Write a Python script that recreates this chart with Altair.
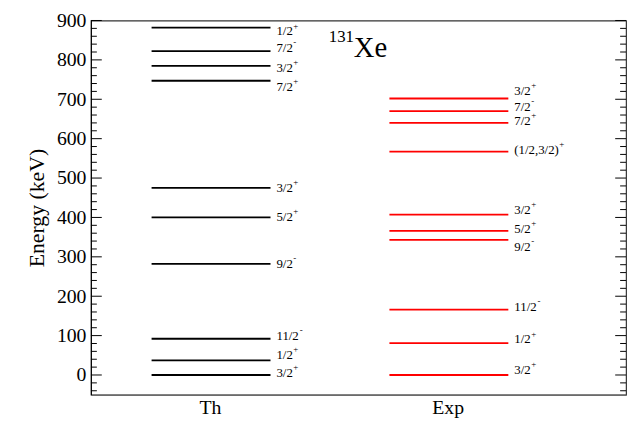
import altair as alt
import pandas as pd

# Level energies (keV) and spin-parity labels
th_energy = [0, 37, 92, 282, 400, 475, 747, 785, 822, 882]
th_label_pos = [5, 50, 100, 282, 400, 475, 730, 780, 830, 872]
th_spin = ["3/2", "1/2", "11/2", "9/2", "5/2", "3/2", "7/2", "3/2", "7/2", "1/2"]
th_parity = ["+", "+", "-", "-", "+", "+", "+", "+", "-", "+"]

exp_energy = [0, 81, 166, 343, 366, 407, 567, 640, 670, 702]
exp_label_pos = [12, 90, 172, 325, 370, 420, 572, 645, 680, 720]
exp_spin = ["3/2", "1/2", "11/2", "9/2", "5/2", "3/2", "(1/2,3/2)", "7/2", "7/2", "3/2"]
exp_parity = ["+", "+", "-", "-", "+", "+", "+", "+", "-", "+"]

columns = ["Th", "Exp"]
column_center = [2, 6]

FONT = "'Liberation Serif', 'Times New Roman', Times, serif"
W, H = 542, 379
XMAX = 9
PX_PER_UNIT = W / XMAX
LBL = 13

char_w = {"(": 0.333, ")": 0.333, "/": 0.278, ",": 0.25}


def text_width(s, size):
    return sum(char_w.get(c, 0.5) for c in s) * size


rows = []
for col, energies, lpos, spins, pars, x0, color in [
    ("Th", th_energy, th_label_pos, th_spin, th_parity, 1.0, "black"),
    ("Exp", exp_energy, exp_label_pos, exp_spin, exp_parity, 5.0, "red"),
]:
    for e, lp, s, p in zip(energies, lpos, spins, pars):
        lx = x0 + 2.12
        rows.append(dict(col=col, energy=e, x1=x0 + 0.02, x2=x0 + 2.02, lpos=lp, spin=s,
                         parity=p, lx=lx,
                         px=lx + (text_width(s, LBL) + 0.5) / PX_PER_UNIT,
                         color=color))
df = pd.DataFrame(rows)

xs = alt.Scale(domain=[0, XMAX], nice=False, zero=False)
ys = alt.Scale(domain=[-50, 900], nice=False, zero=False)

levels = alt.Chart(df).mark_rule(strokeWidth=1.8).encode(
    x=alt.X("x1:Q", scale=xs,
            axis=alt.Axis(values=column_center, ticks=False, grid=False, domain=True,
                          labelExpr="datum.value == 2 ? 'Th' : 'Exp'",
                          labelFont=FONT, labelFontSize=20, labelColor="black",
                          labelPadding=3, title=None, domainColor="#555555")),
    x2="x2:Q",
    y=alt.Y("energy:Q", scale=ys,
            axis=alt.Axis(values=list(range(0, 901, 100)), ticks=False, grid=False,
                          labelFont=FONT, labelFontSize=20, labelColor="black",
                          labelPadding=5, title="Energy (keV)", titleFont=FONT,
                          titleFontSize=22, titleFontWeight="normal", titleColor="black",
                          titlePadding=8, domainColor="black")),
    color=alt.Color("color:N", scale=None),
)

labels = alt.Chart(df).mark_text(align="left", baseline="middle", font=FONT,
                                 fontSize=LBL, color="black").encode(
    x="lx:Q", y="lpos:Q", text="spin:N")

sups = alt.Chart(df).mark_text(align="left", baseline="middle", font=FONT,
                               fontSize=9, color="black", dy=-6).encode(
    x="px:Q", y="lpos:Q", text="parity:N")

# Axis ticks (inward), major and minor, left and right
major = list(range(0, 901, 100))
minor = [v for v in range(-40, 901, 20) if v % 100 != 0]
maj_df = pd.DataFrame({"v": major})
min_df = pd.DataFrame({"v": minor})


def ticks(data, x_a, x_b):
    return alt.Chart(data).mark_rule(color="black", strokeWidth=1).encode(
        y=alt.Y("v:Q", scale=ys), x=alt.value(x_a), x2=alt.value(x_b))


tick_layers = [
    ticks(maj_df, 0, 11), ticks(min_df, 0, 6),
    ticks(maj_df, W - 11, W), ticks(min_df, W - 6, W),
]

title_x = [4.0, 4.42]
title_y = [845, 807]
title_t = ["131", "Xe"]
title_df = pd.DataFrame({"x": title_x, "y": title_y, "t": title_t})
t131 = alt.Chart(title_df.iloc[[0]]).mark_text(align="left", baseline="alphabetic",
                                              font=FONT, fontSize=17, color="black").encode(
    x="x:Q", y="y:Q", text="t:N")
txe = alt.Chart(title_df.iloc[[1]]).mark_text(align="left", baseline="alphabetic",
                                             font=FONT, fontSize=29, color="black").encode(
    x="x:Q", y="y:Q", text="t:N")

chart = alt.layer(levels, labels, sups, *tick_layers, t131, txe).properties(
    width=W, height=H, background="white",
    autosize=alt.AutoSizeParams(type="none"),
    padding={"left": 84, "top": 10, "right": 5, "bottom": 25},
).configure_view(stroke="#333333", strokeWidth=1.2)

chart.save("out.html", embed_options={"renderer": "svg", "actions": False})
